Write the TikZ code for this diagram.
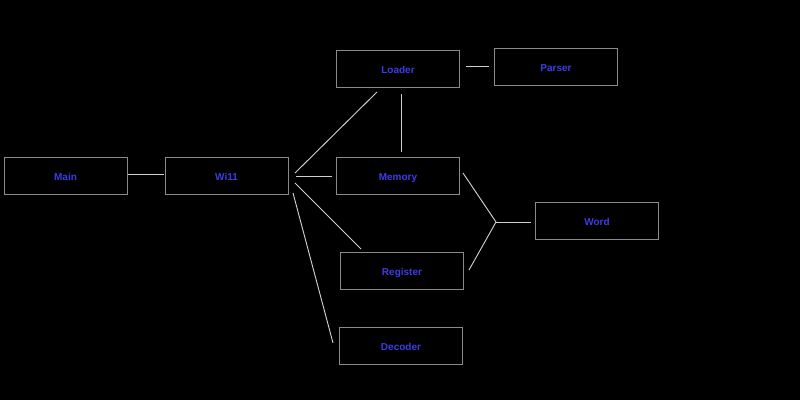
\documentclass[tikz,border=0pt]{standalone}
\usepackage{fontspec}
\setmainfont{Liberation Sans}
\begin{document}
\begin{tikzpicture}[x=0.75pt,y=-0.75pt,
  box/.style={draw=boxgray,line width=0.75pt,minimum width=92.25pt,minimum height=27.75pt,inner sep=0pt,
    text height=7pt,text depth=0pt,
    text=txtblue,font=\bfseries\fontsize{7.5pt}{8pt}\selectfont},
  link/.style={draw=linegray,line width=0.7pt}]
\definecolor{boxgray}{HTML}{8A8A8A}
\definecolor{txtblue}{HTML}{3C3CE6}
\definecolor{linegray}{HTML}{D0D0D0}
\fill[black] (0,0) rectangle (800,400);
\useasboundingbox (0,0) rectangle (800,400);
\node[box] (main) at (65.5,175.5) {Main};
\node[box] (wi11) at (226.5,175.5) {Wi11};
\node[box] (loader) at (398,69) {Loader};
\node[box] (parser) at (556,66.5) {Parser};
\node[box] (memory) at (398,175.5) {Memory};
\node[box] (word) at (597,221) {Word};
\node[box] (register) at (402,270.5) {Register};
\node[box] (decoder) at (401,345.5) {Decoder};
% connector end points (lines stop short of boxes)
\coordinate (mainE) at (128,174);
\coordinate (wi11W) at (164,174);
\coordinate (wi11A) at (295,173);
\coordinate (loaderSW) at (377,92);
\coordinate (wi11B) at (296,176);
\coordinate (memoryW) at (332,176);
\coordinate (wi11C) at (295,183);
\coordinate (registerNW) at (361,249);
\coordinate (wi11D) at (293,193);
\coordinate (decoderW) at (333,343);
\coordinate (loaderE) at (466,66);
\coordinate (parserW) at (489,66);
\coordinate (loaderS) at (401,94);
\coordinate (memoryN) at (401,152);
\coordinate (memoryE) at (463,173);
\coordinate (registerE) at (469,270);
\coordinate (junc) at (496,222);
\coordinate (wordW) at (531,222);
\draw[link] (mainE) -- (wi11W);
\draw[link] (wi11A) -- (loaderSW);
\draw[link] (wi11B) -- (memoryW);
\draw[link] (wi11C) -- (registerNW);
\draw[link] (wi11D) -- (decoderW);
\draw[link] (loaderE) -- (parserW);
\draw[link] (loaderS) -- (memoryN);
\draw[link] (memoryE) -- (junc);
\draw[link] (registerE) -- (junc);
\draw[link] (junc) -- (wordW);
\end{tikzpicture}
\end{document}
